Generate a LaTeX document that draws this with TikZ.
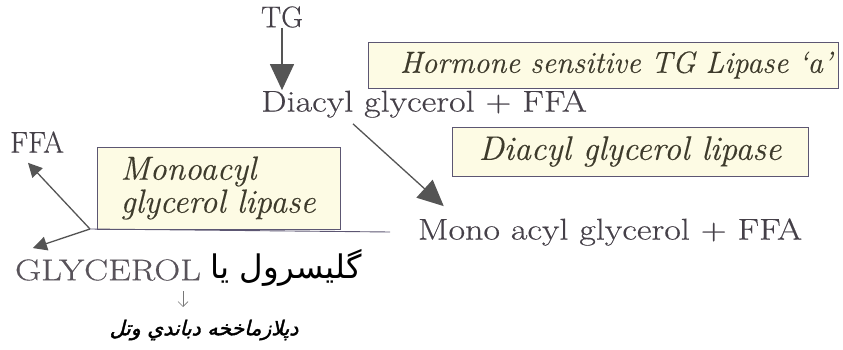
\documentclass[tikz,border=0pt]{standalone}
\usepackage{fontspec}
\usetikzlibrary{arrows.meta,calc}
\TeXXeTstate=1
\newfontfamily\chemfont[FakeStretch=1.2,FakeBold=0.4]{Latin Modern Roman}
\newfontfamily\labelfont[FakeBold=0.4]{Latin Modern Roman}
\newfontfamily\enzfont[FakeBold=0.3]{Latin Modern Roman}
\newfontfamily\arabicfont[Script=Arabic]{DejaVu Sans}
\newfontfamily\arabicslant[Script=Arabic,FakeSlant=0.25,FakeBold=1.8]{DejaVu Sans}
\definecolor{txtgray}{HTML}{454048}
\definecolor{enzgray}{HTML}{3E3B2C}
\definecolor{boxline}{HTML}{5C5672}
\definecolor{boxfill}{HTML}{FDFBE4}
\definecolor{arrgray}{HTML}{555555}
\tikzset{
  chem/.style={text=txtgray, inner sep=0pt, font=\chemfont\fontsize{30}{33}\selectfont},
  small chem/.style={text=txtgray, inner sep=0pt, font=\labelfont\fontsize{30}{33}\selectfont},
  enzyme/.style={draw=boxline, fill=boxfill, line width=0.9pt, text=enzgray,
    inner sep=0pt, font=\enzfont\itshape\fontsize{30.5}{33}\selectfont},
  bigarrow/.style={draw=arrgray, line width=1.3pt, -{Triangle[length=26pt,width=24pt]}},
  smallarrow/.style={draw=arrgray, line width=1.3pt, -{Triangle[length=14pt,width=14pt]}},
  thinarrow/.style={draw=arrgray!80, line width=0.7pt, -{Straight Barb[length=5pt,width=10pt]}},
  plainline/.style={draw=boxline, line width=0.9pt},
}
\begin{document}
\begin{tikzpicture}[x=1pt,y=-1pt]
\useasboundingbox (0,0) rectangle (843,350);

% enzyme boxes
\node[enzyme, minimum width=470pt, minimum height=46pt, text width=458pt, inner xsep=6pt, align=right] (hsl) at (603,65)
  {Hormone sensitive TG Lipase ‘a’};
\node[enzyme, minimum width=356pt, minimum height=49pt, font=\enzfont\itshape\fontsize{34}{36}\selectfont] (dgl) at (630,151.5)
  {Diacyl glycerol lipase};
\node[enzyme, minimum height=82pt, text width=196pt, inner xsep=23.5pt, align=left,
      font=\enzfont\itshape\fontsize{33.5}{33}\selectfont] (mgl) at (218.5,188)
  {Monoacyl\\glycerol lipase};

% metabolites
\node[small chem] (tg) at (282,17) {TG};
\node[chem] (dag) at (424,104) {Diacyl glycerol + FFA};
\node[chem] (mag) at (610,232) {Mono acyl glycerol + FFA};
\node[small chem] (ffa) at (37,142) {FFA};
\node[chem, text=txtgray!90] (gly) at (108,270) {GLYCEROL};
\node[text=black, inner sep=0pt, font=\arabicfont\fontsize{32.5}{34}\selectfont] (glyar) at (286,268)
  {\beginR گلیسرول یا\endR};
\node[text=black, inner sep=0pt, font=\arabicslant\fontsize{20.5}{22}\selectfont] (out) at (204,330)
  {\beginR دپلازماخخه دباندي وتل\endR};

% reactions
\draw[bigarrow] (tg.south) -- (tg.south |- dag.north);
\draw[bigarrow] ($(dag.south west)+(92,6)$) -- ($(mag.north west)+(26,-12)$);

\coordinate (j) at (90,229);
\coordinate (lineend) at (390,232);
\draw[plainline] (j) -- (lineend);
\draw[smallarrow] (j) -- ($(ffa.south)+(-9,10)$);
\draw[smallarrow] (j) -- ($(gly.north west)+(18,-11)$);
\draw[thinarrow] (183,291) -- (183,307);
\end{tikzpicture}
\end{document}
